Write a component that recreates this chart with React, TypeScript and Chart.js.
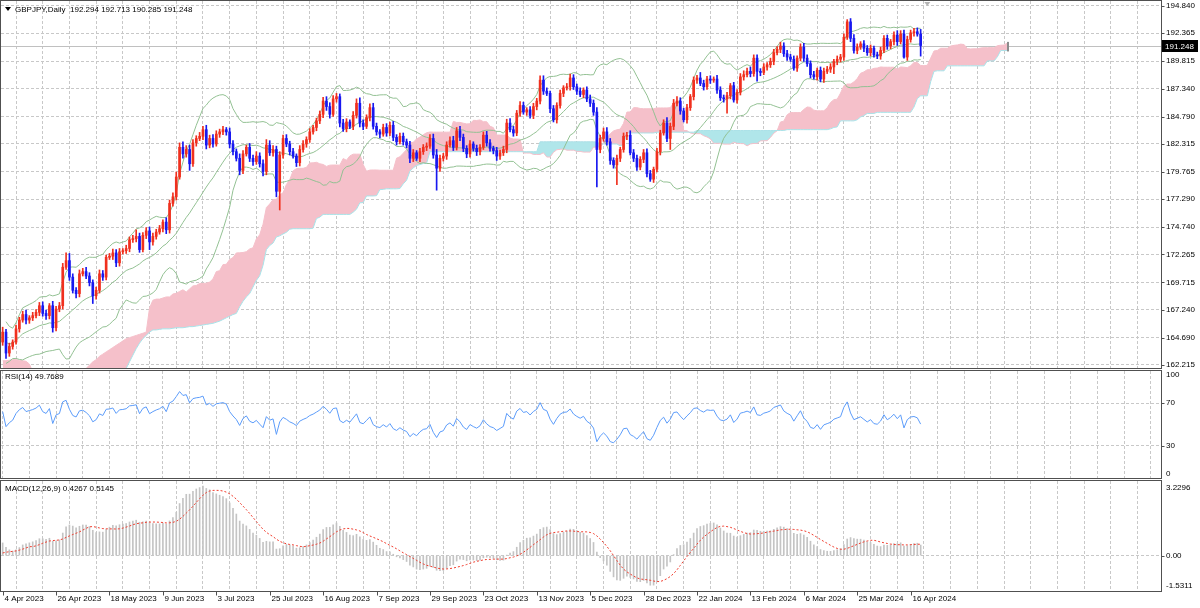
import React, { useEffect, useRef } from 'react';
import { Chart, registerables } from 'chart.js';

Chart.register(...registerables);

// ---------------- texts ----------------
const symbolTitle = 'GBPJPY,Daily  192.294 192.713 190.285 191.248';
const rsiTitle = 'RSI(14) 49.7689';
const macdTitle = 'MACD(12,26,9) 0.4267 0.5145';
const lastPrice = 191.248;
const lastPriceLabel = '191.248';

const dateLabels = [
  '4 Apr 2023', '26 Apr 2023', '18 May 2023', '9 Jun 2023', '3 Jul 2023', '25 Jul 2023',
  '16 Aug 2023', '7 Sep 2023', '29 Sep 2023', '23 Oct 2023', '13 Nov 2023', '5 Dec 2023',
  '28 Dec 2023', '22 Jan 2024', '13 Feb 2024', '6 Mar 2024', '25 Mar 2024', '16 Apr 2024',
];
const dateLabelBars = [0, 16, 32, 48, 64, 80, 96, 112, 128, 144, 160, 176, 192, 208, 224, 240, 256, 272];

const priceTicks = [194.84, 192.365, 189.815, 187.34, 184.79, 182.315, 179.765, 177.29, 174.74, 172.265, 169.715, 167.24, 164.69, 162.215];
const priceTickLabels = ['194.840', '192.365', '189.815', '187.340', '184.790', '182.315', '179.765', '177.290', '174.740', '172.265', '169.715', '167.240', '164.690', '162.215'];
const priceMin = 161.94;
const priceMax = 195.294;

const rsiGridValues = [70, 30];
const rsiLabels = ['100', '70', '30', '0'];
const macdMin = -1.5311;
const macdMax = 3.2296;
const macdLabels = ['3.2296', '0.00', '-1.5311'];

// ---------------- price data (daily candles, 4 Apr 2023 .. 19 Apr 2024) ----------------
const firstOpen = 164.3;
const closes = [
  165.2, 163.3, 163.9, 164.3, 165.5, 166.3, 166.8, 166.3, 166.5, 166.7,
  167.0, 167.6, 166.9, 166.7, 167.6, 165.6, 167.3, 167.6, 171.1, 171.7,
  170.2, 169.0, 168.7, 170.5, 170.7, 170.3, 169.7, 168.5, 169.0, 170.5,
  170.2, 172.0, 172.1, 172.4, 171.5, 172.5, 172.6, 172.8, 173.6, 173.7,
  173.9, 172.7, 174.0, 174.4, 173.4, 173.9, 174.3, 174.6, 175.2, 174.5,
  176.9, 177.5, 179.3, 182.0, 181.4, 181.8, 180.5, 182.4, 182.8, 183.0,
  183.6, 182.2, 182.8, 182.3, 183.2, 183.4, 183.6, 183.4, 182.3, 181.6,
  181.0, 179.9, 181.4, 182.0, 181.0, 180.7, 181.2, 180.5, 179.8, 182.2,
  181.5, 181.8, 178.0, 181.3, 182.8, 182.3, 181.6, 181.2, 180.6, 181.8,
  182.3, 182.7, 183.4, 183.8, 184.4, 185.0, 186.2, 185.7, 185.0, 186.4,
  186.6, 184.2, 183.7, 184.3, 183.9, 184.9, 186.0, 184.2, 183.9, 184.7,
  185.6, 183.9, 183.4, 183.2, 183.8, 183.3, 184.0, 182.9, 182.5, 183.0,
  182.5, 182.2, 181.0, 181.5, 181.0, 181.6, 182.0, 182.1, 182.8, 181.3,
  180.1, 181.0, 181.2, 182.2, 182.6, 182.0, 183.5, 182.9, 181.9, 181.4,
  182.3, 181.9, 181.6, 182.0, 183.1, 182.4, 181.9, 181.7, 181.2, 181.5,
  181.8, 184.2, 183.6, 183.3, 185.1, 185.8, 185.2, 185.4, 184.9, 185.7,
  186.2, 188.1, 187.1, 186.9, 185.5, 184.5, 185.8, 186.9, 187.4, 187.5,
  188.3, 187.5, 187.1, 186.8, 187.2, 186.4, 186.0, 185.2, 181.8, 182.8,
  183.4, 182.5, 180.8, 180.4, 181.0, 181.8, 183.0, 183.1, 181.5, 181.0,
  180.2, 180.9, 181.5, 179.6, 179.1, 180.0, 181.6, 183.3, 184.2, 182.8,
  183.9, 186.0, 186.2, 185.3, 184.5, 185.6, 186.6, 188.1, 188.3, 187.8,
  187.5, 188.2, 188.1, 188.2, 187.2, 186.5, 186.4, 186.7, 187.6, 186.3,
  187.0, 188.4, 188.6, 188.9, 188.7, 190.1, 188.9, 188.8, 189.3, 189.5,
  189.8, 190.6, 190.9, 191.2, 190.5, 190.2, 190.0, 189.2, 190.1, 191.1,
  190.1, 189.6, 188.6, 188.4, 189.0, 188.2, 188.9, 189.1, 189.3, 189.8,
  190.0, 190.2, 192.0, 193.4, 191.9, 190.8, 191.1, 191.4, 191.0, 190.6,
  191.0, 190.4, 190.3, 190.8, 191.9, 191.2, 191.6, 192.2, 191.6, 192.3,
  190.2, 191.8, 192.4, 192.5, 192.294, 191.248,
];
const upperWicks = [
  0.45, 0.25, 0.3, 0.2, 0.35, 0.25, 0.3, 0.4, 0.2, 0.3,
  0.25, 0.3, 0.35, 0.3, 0.2, 0.4, 0.25, 0.3, 0.35, 0.7,
  0.65, 0.3, 0.25, 0.35, 0.3, 0.4, 0.3, 0.25, 0.3, 0.35,
  0.3, 0.2, 0.25, 0.35, 0.3, 0.3, 0.2, 0.3, 0.25, 0.3,
  0.6, 0.3, 0.25, 0.3, 0.35, 0.3, 0.25, 0.3, 0.2, 0.4,
  0.3, 0.35, 0.45, 0.4, 0.5, 0.35, 0.4, 0.3, 0.25, 0.35,
  0.3, 0.4, 0.3, 0.35, 0.3, 0.25, 0.3, 0.2, 0.35, 0.3,
  0.25, 0.4, 0.3, 0.2, 0.35, 0.3, 0.4, 0.3, 0.35, 0.5,
  0.4, 0.35, 0.3, 0.3, 0.3, 0.35, 0.25, 0.3, 0.2, 0.35,
  0.3, 0.25, 0.3, 0.2, 0.25, 0.3, 0.35, 0.4, 0.35, 0.3,
  0.3, 0.25, 0.35, 0.3, 0.2, 0.35, 0.4, 0.5, 0.3, 0.25,
  0.35, 0.4, 0.3, 0.2, 0.3, 0.35, 0.3, 0.35, 0.25, 0.3,
  0.3, 0.25, 0.35, 0.3, 0.2, 0.3, 0.25, 0.3, 0.35, 0.4,
  0.5, 0.3, 0.25, 0.3, 0.35, 0.4, 0.3, 0.4, 0.3, 0.25,
  0.3, 0.2, 0.3, 0.25, 0.3, 0.35, 0.3, 0.2, 0.3, 0.25,
  0.3, 0.35, 0.4, 0.3, 0.25, 0.35, 0.3, 0.2, 0.3, 0.3,
  0.25, 0.4, 0.4, 0.3, 0.2, 0.3, 0.25, 0.3, 0.2, 0.3,
  0.35, 0.3, 0.25, 0.3, 0.2, 0.3, 0.35, 0.3, 0.4, 0.3,
  0.35, 0.4, 0.3, 0.25, 0.3, 0.2, 0.3, 0.25, 0.4, 0.3,
  0.3, 0.25, 0.3, 0.35, 0.3, 0.2, 0.3, 0.25, 0.3, 0.5,
  0.3, 0.35, 0.4, 0.3, 0.25, 0.3, 0.2, 0.3, 0.25, 0.5,
  0.3, 0.25, 0.3, 0.2, 0.35, 0.3, 0.25, 0.3, 0.2, 0.3,
  0.25, 0.3, 0.35, 0.3, 0.4, 0.3, 0.3, 0.25, 0.3, 0.2,
  0.3, 0.3, 0.25, 0.35, 0.3, 0.3, 0.25, 0.3, 0.2, 0.3,
  0.35, 0.3, 0.25, 0.3, 0.2, 0.3, 0.3, 0.25, 0.3, 0.2,
  0.3, 0.25, 0.3, 0.2, 0.3, 0.35, 0.3, 0.2, 0.3, 0.25,
  0.3, 0.2, 0.25, 0.3, 0.25, 0.3, 0.2, 0.3, 0.4, 0.3,
  0.35, 0.3, 0.25, 0.3, 0.35, 0.419,
];
const lowerWicks = [
  0.3, 0.5, 0.3, 0.25, 0.2, 0.3, 0.2, 0.35, 0.3, 0.25,
  0.2, 0.3, 0.25, 0.35, 0.3, 0.4, 0.3, 0.25, 0.3, 0.2,
  0.3, 0.25, 0.4, 0.3, 0.2, 0.25, 0.3, 0.7, 0.3, 0.25,
  0.3, 0.25, 0.2, 0.3, 0.35, 0.3, 0.2, 0.25, 0.3, 0.25,
  0.3, 0.25, 0.2, 0.3, 0.7, 0.3, 0.25, 0.2, 0.3, 0.35,
  0.3, 0.25, 0.3, 0.2, 0.4, 0.3, 0.6, 0.25, 0.3, 0.2,
  0.3, 0.35, 0.25, 0.3, 0.2, 0.3, 0.25, 0.3, 0.35, 0.3,
  0.25, 0.4, 0.3, 0.2, 0.3, 0.35, 0.25, 0.3, 0.4, 0.3,
  0.25, 0.3, 0.5, 1.7, 0.3, 0.25, 0.3, 0.2, 0.35, 0.3,
  0.25, 0.3, 0.25, 0.2, 0.3, 0.25, 0.3, 0.35, 0.35, 0.2,
  0.3, 0.35, 0.25, 0.3, 0.2, 0.3, 0.25, 0.35, 0.3, 0.2,
  0.3, 0.25, 0.3, 0.35, 0.2, 0.3, 0.25, 0.3, 0.3, 0.2,
  0.3, 0.25, 0.4, 0.3, 0.2, 0.3, 0.25, 0.3, 0.2, 0.3,
  2.0, 0.3, 0.25, 0.3, 0.2, 0.3, 0.25, 0.3, 0.3, 0.35,
  0.3, 0.25, 0.35, 0.3, 0.2, 0.3, 0.25, 0.3, 0.4, 0.3,
  0.25, 0.3, 0.2, 0.3, 0.25, 0.3, 0.2, 0.3, 0.25, 0.3,
  0.3, 0.25, 0.3, 0.2, 0.35, 0.2, 0.3, 0.25, 0.3, 0.2,
  0.3, 0.25, 0.3, 0.2, 0.3, 0.25, 0.3, 0.3, 3.4, 0.3,
  0.25, 0.3, 0.35, 0.3, 1.8, 0.3, 0.25, 0.3, 0.2, 0.3,
  0.3, 0.25, 0.3, 0.3, 0.2, 0.3, 0.25, 0.3, 0.2, 0.3,
  1.0, 0.3, 0.25, 0.3, 0.2, 0.3, 0.25, 0.3, 0.3, 0.2,
  0.3, 0.25, 0.3, 0.2, 0.3, 0.25, 0.3, 1.3, 0.3, 0.2,
  0.3, 0.25, 0.3, 0.2, 0.3, 0.25, 0.9, 0.3, 0.2, 0.3,
  0.25, 0.3, 0.2, 0.3, 0.25, 0.3, 0.2, 0.2, 0.3, 0.25,
  0.3, 0.25, 0.3, 0.2, 0.3, 0.25, 0.3, 0.2, 0.3, 0.6,
  0.3, 0.25, 0.3, 0.2, 0.3, 0.25, 0.3, 0.2, 0.3, 0.25,
  0.3, 0.2, 0.25, 0.3, 0.2, 0.3, 0.25, 0.3, 0.35, 0.2,
  0.1, 0.3, 0.25, 0.3, 0.2, 0.963,
];

// Ichimoku cloud values at the left edge whose inputs lie before the first visible bar
const cloudHeadA = [
  162.6, 162.6, 162.65, 162.7, 162.7, 162.65, 162.6, 162.55, 162.3,
  161.6, 161.4, 161.3, 161.2, 161.2, 161.1, 161.1, 161.0, 161.0, 161.1, 161.2, 161.3, 161.4, 161.5, 161.6, 161.7,
  161.9, 162.2, 162.5, 162.7, 163.0, 163.2, 163.4, 163.6, 163.8, 164.0, 164.2, 164.4, 164.6, 164.7, 164.8, 164.9, 165.0, 165.1,
  165.2, 167.4, 168.1, 168.2, 168.2, 168.3, 168.4, 168.4,
];
const cloudHeadB = [
  161.0, 161.0, 161.0, 161.0, 161.0, 161.0, 161.0, 161.0, 161.0,
  160.5, 160.5, 160.5, 160.5, 160.5, 160.5, 160.5, 160.5, 160.5, 160.5, 160.5, 160.5, 160.5, 160.5,
  160.5, 160.5, 160.5, 160.5, 160.5, 160.5, 160.5, 160.5, 160.5, 160.5, 160.5, 160.5, 160.5, 160.5,
  161.9, 162.5, 163.1, 163.7, 164.2, 164.6, 164.9, 165.2, 165.4,
  165.4, 165.45, 165.5, 165.5, 165.5, 165.55, 165.6, 165.6, 165.6, 165.65,
  165.7, 165.7, 165.75, 165.8, 165.85, 165.9, 165.95, 166.0,
  166.1, 166.2, 166.35, 166.5, 166.65, 166.8, 166.9,
  167.5, 168.0, 168.4, 168.7, 169.3, 169.9,
];

const rsiStart = 62;
const rsiSeedMove = 0.5;
const macdStart = 0.55;
const signalStart = 0.06;

// ---------------- derived series ----------------
const N = closes.length;
const opens = closes.map((c, i) => (i === 0 ? firstOpen : closes[i - 1]));
const highs = closes.map((c, i) => Math.max(c, opens[i]) + upperWicks[i]);
const lows = closes.map((c, i) => Math.min(c, opens[i]) - lowerWicks[i]);

function hh(a: number, b: number) { let m = -Infinity; for (let k = a; k <= b; k++) m = Math.max(m, highs[k]); return m; }
function ll(a: number, b: number) { let m = Infinity; for (let k = a; k <= b; k++) m = Math.min(m, lows[k]); return m; }

// Bollinger (20, 2)
const bbMid: (number | null)[] = [];
const bbUp: (number | null)[] = [];
const bbLo: (number | null)[] = [];
for (let i = 0; i < N; i++) {
  if (i === 0) { bbMid.push(null); bbUp.push(null); bbLo.push(null); continue; }
  const a = Math.max(0, i - 19);
  const w = closes.slice(a, i + 1);
  const m = w.reduce((s, v) => s + v, 0) / w.length;
  const sd = Math.sqrt(w.reduce((s, v) => s + (v - m) * (v - m), 0) / w.length);
  bbMid.push(m); bbUp.push(m + 2 * sd); bbLo.push(m - 2 * sd);
}

// Ichimoku (9, 26, 52) cloud, shifted 26 bars forward
const spanA: number[] = [];
const spanB: number[] = [];
for (let j = 0; j < N + 26; j++) {
  const i = j - 26;
  if (i >= 25) {
    const t = (hh(i - 8, i) + ll(i - 8, i)) / 2;
    const k = (hh(i - 25, i) + ll(i - 25, i)) / 2;
    spanA.push((t + k) / 2);
  } else spanA.push(cloudHeadA[j]);
  if (i >= 51) spanB.push((hh(i - 51, i) + ll(i - 51, i)) / 2);
  else spanB.push(cloudHeadB[j]);
}

// RSI(14), Wilder smoothing
const rsi: number[] = [rsiStart];
{
  let ag = (rsiStart / 100) * rsiSeedMove;
  let al = (1 - rsiStart / 100) * rsiSeedMove;
  for (let i = 1; i < N; i++) {
    const d = closes[i] - closes[i - 1];
    ag = (ag * 13 + Math.max(d, 0)) / 14;
    al = (al * 13 + Math.max(-d, 0)) / 14;
    rsi.push(al === 0 ? 100 : 100 - 100 / (1 + ag / al));
  }
}

// MACD(12, 26, 9) with SMA signal (MetaTrader style)
const macd: number[] = [];
const signal: number[] = [];
{
  let e12 = closes[0];
  let e26 = closes[0] - macdStart;
  for (let i = 0; i < N; i++) {
    if (i > 0) {
      e12 += (2 / 13) * (closes[i] - e12);
      e26 += (2 / 27) * (closes[i] - e26);
    }
    macd.push(e12 - e26);
    let s = 0;
    for (let k = i - 8; k <= i; k++) s += k < 0 ? signalStart : macd[k];
    signal.push(s / 9);
  }
}

// ---------------- styling ----------------
const FONT = '8px "Liberation Sans", Arial, sans-serif';
const gridColor = '#c8c8c8';
const frameColor = '#505050';
const upColor = '#f0301e';
const downColor = '#1818f0';
const bbColor = '#93c193';
const cloudPink = 'rgb(245,192,202)';
const cloudCyan = 'rgb(176,230,234)';
const cloudCyanLine = 'rgb(170,226,232)';
const rsiColor = 'rgb(92,156,250)';
const histColor = '#c4c4c4';
const signalColor = 'rgb(240,60,45)';
const xMin = -0.5;
const xMax = 347;
const axisWidth = 39;

const gridBars: number[] = [];
for (let b = 0; b <= 344; b += 8) gridBars.push(b);

function xScaleOpts() {
  return {
    type: 'linear',
    min: xMin,
    max: xMax,
    offset: false,
    afterBuildTicks: (s: any) => { s.ticks = gridBars.map((v) => ({ value: v })); },
    afterFit: (s: any) => { s.height = 0; },
    ticks: { display: false },
    grid: { color: gridColor, drawTicks: false, lineWidth: 1 },
    border: { display: false, dash: [3, 2] },
  };
}
function yScaleOpts(min: number, max: number, gridVals: number[]) {
  return {
    type: 'linear',
    position: 'right',
    min,
    max,
    afterBuildTicks: (s: any) => { s.ticks = gridVals.map((v) => ({ value: v })); },
    afterFit: (s: any) => { s.width = axisWidth; },
    ticks: { display: false },
    grid: { color: gridColor, drawTicks: false, lineWidth: 1 },
    border: { display: false, dash: [3, 2] },
  };
}
function baseOptions(scales: any, padding: any) {
  return {
    animation: false,
    responsive: false,
    events: [],
    layout: { padding },
    plugins: { legend: { display: false }, tooltip: { enabled: false } },
    scales,
  };
}
function drawFrame(ctx: CanvasRenderingContext2D, ca: any) {
  ctx.strokeStyle = frameColor;
  ctx.lineWidth = 1;
  ctx.strokeRect(ca.left - 0.5, ca.top - 0.5, ca.right - ca.left + 1, ca.bottom - ca.top + 1);
}
function axisLabel(ctx: CanvasRenderingContext2D, ca: any, text: string, py: number, tickY?: number) {
  ctx.strokeStyle = frameColor;
  if (tickY !== undefined) {
    ctx.beginPath();
    ctx.moveTo(ca.right + 0.5, Math.round(tickY) + 0.5);
    ctx.lineTo(ca.right + 3.5, Math.round(tickY) + 0.5);
    ctx.stroke();
  }
  ctx.fillStyle = '#000';
  ctx.fillText(text, ca.right + 5, py);
}

// ---------------- main panel ----------------
function mainConfig(): any {
  const colors = closes.map((c, i) => (c >= opens[i] ? upColor : downColor));
  const decor = {
    id: 'mainDecor',
    beforeDatasetsDraw(chart: any) {
      const { ctx, chartArea: ca, scales } = chart;
      const py = Math.round(scales.y.getPixelForValue(lastPrice)) + 0.5;
      ctx.save();
      ctx.strokeStyle = '#c0c0c0';
      ctx.lineWidth = 1;
      ctx.beginPath();
      ctx.moveTo(ca.left, py);
      ctx.lineTo(ca.right, py);
      ctx.stroke();
      ctx.restore();
    },
    afterDraw(chart: any) {
      const { ctx, chartArea: ca, scales } = chart;
      const { x, y } = scales;
      ctx.save();
      // end marker of the cloud
      const last = spanA.length - 1;
      const ex = x.getPixelForValue(last);
      const ya = y.getPixelForValue(spanA[last]);
      const yb = y.getPixelForValue(spanB[last]);
      ctx.fillStyle = '#8c8c8c';
      ctx.fillRect(Math.round(ex), Math.min(ya, yb) - 1, 2, Math.abs(ya - yb) + 2);
      // chart shift marker
      const sx = x.getPixelForValue(N + 1);
      ctx.fillStyle = '#b4b4b4';
      ctx.beginPath();
      ctx.moveTo(sx - 3, ca.top + 1);
      ctx.lineTo(sx + 3, ca.top + 1);
      ctx.lineTo(sx, ca.top + 5);
      ctx.closePath();
      ctx.fill();
      drawFrame(ctx, ca);
      ctx.font = FONT;
      ctx.textBaseline = 'middle';
      ctx.textAlign = 'left';
      priceTicks.forEach((v, k) => {
        const py = y.getPixelForValue(v);
        axisLabel(ctx, ca, priceTickLabels[k], py, py);
      });
      // last price box
      const lp = Math.round(y.getPixelForValue(lastPrice));
      ctx.fillStyle = '#000';
      ctx.fillRect(ca.right + 1, lp - 6, 36, 12);
      ctx.fillStyle = '#fff';
      ctx.fillText(lastPriceLabel, ca.right + 4, lp + 0.5);
      // title
      ctx.fillStyle = '#000';
      ctx.beginPath();
      ctx.moveTo(5, 7);
      ctx.lineTo(11, 7);
      ctx.lineTo(8, 11);
      ctx.closePath();
      ctx.fill();
      ctx.fillText(symbolTitle, 15, 9.5);
      ctx.restore();
    },
  };
  return {
    type: 'bar',
    data: {
      datasets: [
        {
          type: 'line', data: spanA.map((v, j) => ({ x: j, y: v })),
          borderColor: cloudPink, borderWidth: 1, pointRadius: 0,
          fill: { target: 1, above: cloudPink, below: cloudCyan }, order: 10,
        },
        {
          type: 'line', data: spanB.map((v, j) => ({ x: j, y: v })),
          borderColor: cloudCyanLine, borderWidth: 1, pointRadius: 0, fill: false, order: 9,
        },
        { type: 'line', data: bbUp.map((v, i) => ({ x: i, y: v })), borderColor: bbColor, borderWidth: 1, pointRadius: 0, fill: false, order: 5 },
        { type: 'line', data: bbMid.map((v, i) => ({ x: i, y: v })), borderColor: bbColor, borderWidth: 1, pointRadius: 0, fill: false, order: 5 },
        { type: 'line', data: bbLo.map((v, i) => ({ x: i, y: v })), borderColor: bbColor, borderWidth: 1, pointRadius: 0, fill: false, order: 5 },
        {
          type: 'bar', data: closes.map((c, i) => ({ x: i, y: [lows[i], highs[i]] })),
          backgroundColor: colors, barThickness: 1, grouped: false, order: 2,
        },
        {
          type: 'bar', data: closes.map((c, i) => ({ x: i, y: [Math.min(c, opens[i]), Math.max(c, opens[i])] })),
          backgroundColor: colors, barThickness: 2, grouped: false, minBarLength: 1, order: 1,
        },
      ],
    },
    options: baseOptions(
      { x: xScaleOpts(), y: yScaleOpts(priceMin, priceMax, priceTicks) },
      { left: 1, top: 1, right: 0, bottom: 2 },
    ),
    plugins: [decor],
  };
}

// ---------------- RSI panel ----------------
function rsiConfig(): any {
  const decor = {
    id: 'rsiDecor',
    afterDraw(chart: any) {
      const { ctx, chartArea: ca, scales } = chart;
      const y = scales.y;
      ctx.save();
      drawFrame(ctx, ca);
      ctx.font = FONT;
      ctx.textBaseline = 'middle';
      ctx.textAlign = 'left';
      axisLabel(ctx, ca, rsiLabels[0], ca.top + 4);
      axisLabel(ctx, ca, rsiLabels[1], y.getPixelForValue(70), y.getPixelForValue(70));
      axisLabel(ctx, ca, rsiLabels[2], y.getPixelForValue(30), y.getPixelForValue(30));
      axisLabel(ctx, ca, rsiLabels[3], ca.bottom - 4);
      ctx.fillStyle = '#000';
      ctx.fillText(rsiTitle, 5, ca.top + 6);
      ctx.restore();
    },
  };
  return {
    type: 'line',
    data: {
      datasets: [
        { data: rsi.map((v, i) => ({ x: i, y: v })), borderColor: rsiColor, borderWidth: 1, pointRadius: 0, fill: false },
      ],
    },
    options: baseOptions(
      { x: xScaleOpts(), y: yScaleOpts(0, 100, rsiGridValues) },
      { left: 1, top: 1, right: 0, bottom: 2 },
    ),
    plugins: [decor],
  };
}

// ---------------- MACD panel ----------------
function macdConfig(): any {
  const decor = {
    id: 'macdDecor',
    afterDraw(chart: any) {
      const { ctx, chartArea: ca, scales } = chart;
      const { x, y } = scales;
      ctx.save();
      drawFrame(ctx, ca);
      ctx.font = FONT;
      ctx.textBaseline = 'middle';
      ctx.textAlign = 'left';
      axisLabel(ctx, ca, macdLabels[0], ca.top + 7);
      axisLabel(ctx, ca, macdLabels[1], y.getPixelForValue(0), y.getPixelForValue(0));
      axisLabel(ctx, ca, macdLabels[2], ca.bottom - 5);
      ctx.fillStyle = '#000';
      ctx.fillText(macdTitle, 5, ca.top + 8);
      // time axis
      dateLabelBars.forEach((b, k) => {
        const px = Math.round(x.getPixelForValue(b)) + 0.5;
        ctx.strokeStyle = frameColor;
        ctx.beginPath();
        ctx.moveTo(px, ca.bottom + 0.5);
        ctx.lineTo(px, ca.bottom + 4.5);
        ctx.stroke();
        ctx.fillStyle = '#000';
        ctx.fillText(dateLabels[k], px + 1, ca.bottom + 8);
      });
      ctx.restore();
    },
  };
  return {
    type: 'bar',
    data: {
      datasets: [
        {
          type: 'line', data: signal.map((v, i) => ({ x: i, y: v })), borderColor: signalColor,
          borderWidth: 1, borderDash: [2, 2], pointRadius: 0, fill: false, order: 0,
        },
        {
          type: 'bar', data: macd.map((v, i) => ({ x: i, y: v })), backgroundColor: histColor,
          barThickness: 1, grouped: false, order: 1,
        },
      ],
    },
    options: baseOptions(
      { x: xScaleOpts(), y: yScaleOpts(macdMin, macdMax, [0]) },
      { left: 1, top: 1, right: 0, bottom: 17 },
    ),
    plugins: [decor],
  };
}

function Panel({ top, height, build }: { top: number; height: number; build: () => any }) {
  const ref = useRef<HTMLCanvasElement | null>(null);
  useEffect(() => {
    if (!ref.current) return;
    const chart = new Chart(ref.current, build());
    return () => chart.destroy();
  }, []);
  return (
    <canvas
      ref={ref}
      width={1200}
      height={height}
      style={{ position: 'absolute', left: 0, top, width: 1200, height, display: 'block' }}
    />
  );
}

export default function App() {
  return (
    <div style={{ position: 'absolute', left: 0, top: 0, width: 1200, height: 608, background: '#fff', overflow: 'hidden' }}>
      <Panel top={0} height={370} build={mainConfig} />
      <Panel top={370} height={110} build={rsiConfig} />
      <Panel top={480} height={128} build={macdConfig} />
    </div>
  );
}
